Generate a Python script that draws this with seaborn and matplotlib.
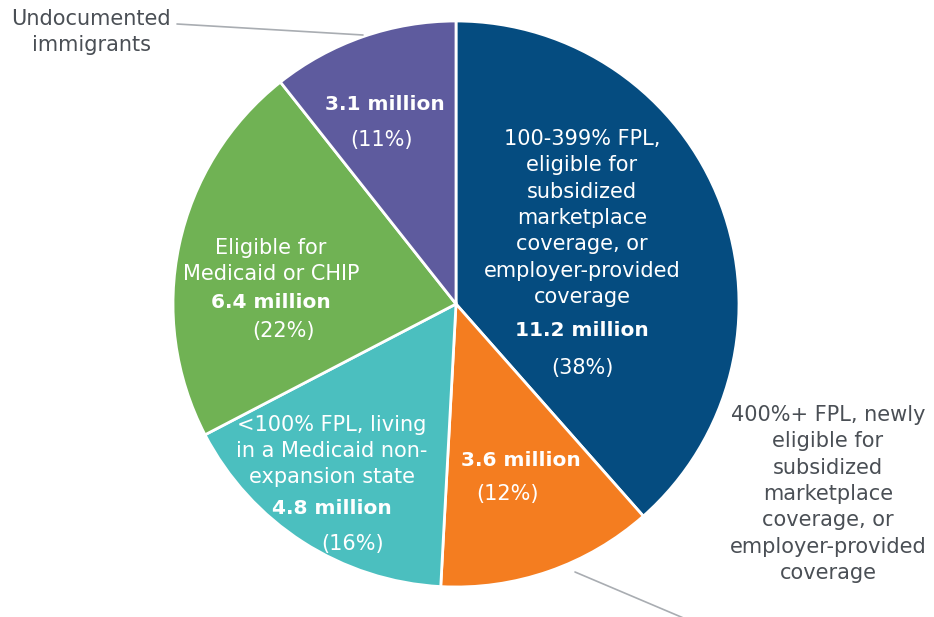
import matplotlib
matplotlib.use('Agg')
import matplotlib.pyplot as plt
import seaborn as sns

sns.set_theme(style='white')
plt.rcParams['font.family'] = ['DejaVu Sans']

# data, clockwise from the top
groups = ['100-399% FPL', '400%+ FPL', '<100% FPL non-expansion', 'Medicaid or CHIP', 'Undocumented']
millions = [11.2, 3.6, 4.8, 6.4, 3.1]
shares = ['38%', '12%', '16%', '22%', '11%']
colors = ['#054C80', '#F47D20', '#4BBFBF', '#70B254', '#5E5B9E']

W, H = 934, 617
fig = plt.figure(figsize=(W / 100, H / 100), dpi=100)
ax = fig.add_axes([0, 0, 1, 1])

# pie in pixel coords (y flipped -> counterclock=True draws clockwise on screen)
ax.pie(millions, colors=colors, startangle=-90, counterclock=True,
       center=(456, 304), radius=283, frame=True,
       wedgeprops=dict(edgecolor='white', linewidth=2))
ax.set_xlim(0, W)
ax.set_ylim(H, 0)
ax.axis('off')

txt = 'white'
grey = '#4A4F55'
fs = 15

def put(x, y, s, color=txt, bold=False, size=None):
    ax.text(x, y, s, ha='center', va='center', color=color,
            fontsize=size or (14.5 if bold else fs),
            fontweight='bold' if bold else 'normal', linespacing=1.4)

# blue
put(582, 218, '100-399% FPL,\neligible for\nsubsidized\nmarketplace\ncoverage, or\nemployer-provided\ncoverage')
put(582, 331, f'{millions[0]} million', bold=True)
put(582, 368, f'({shares[0]})')
# orange
put(521, 461, f'{millions[1]} million', bold=True)
put(507, 494, f'({shares[1]})')
# teal
put(332, 451, '<100% FPL, living\nin a Medicaid non-\nexpansion state')
put(332, 508, f'{millions[2]} million', bold=True)
put(353, 544, f'({shares[2]})')
# green
put(271, 261, 'Eligible for\nMedicaid or CHIP')
put(271, 303, f'{millions[3]} million', bold=True)
put(283, 331, f'({shares[3]})')
# purple
put(385, 104, f'{millions[4]} million', bold=True)
put(382, 140, f'({shares[4]})')

# outside labels
put(91, 32, 'Undocumented\nimmigrants', color=grey)
ax.plot([177, 363], [24, 35], color='#A9ADB2', linewidth=1.2)
put(828, 494, '400%+ FPL, newly\neligible for\nsubsidized\nmarketplace\ncoverage, or\nemployer-provided\ncoverage', color=grey)
ax.plot([575, 700], [572, 625], color='#A9ADB2', linewidth=1.2, clip_on=False)

fig.savefig('out.png', dpi=100)
